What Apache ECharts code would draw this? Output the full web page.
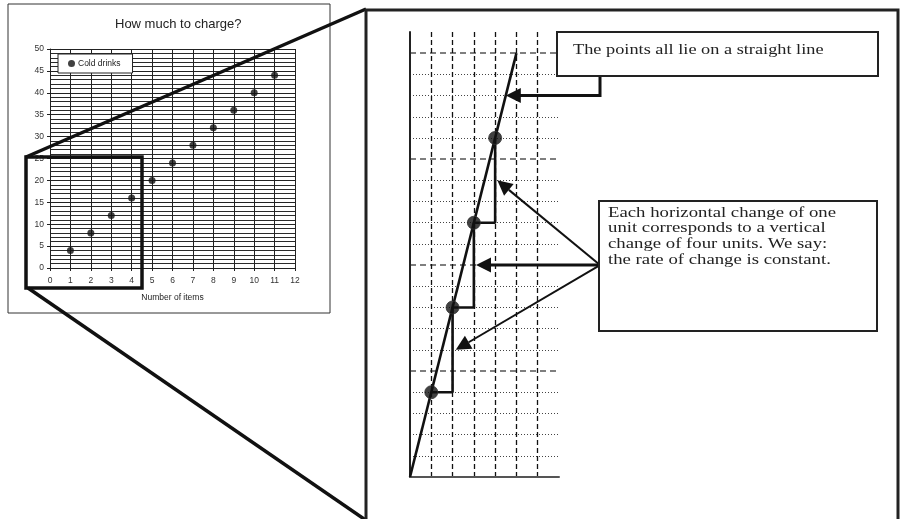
<!DOCTYPE html>
<html><head><meta charset="utf-8">
<script src="https://cdn.jsdelivr.net/npm/echarts@6/dist/echarts.min.js"></script>
<style>html,body{margin:0;padding:0;background:#fff}#c{width:901px;height:519px}</style>
</head><body><div id="c"></div>
<script>
// ---- data ----
const chartTitle = 'How much to charge?';
const xAxisName = 'Number of items';
const seriesName = 'Cold drinks';
const items = [1, 2, 3, 4, 5, 6, 7, 8, 9, 10, 11];
const charge = [4, 8, 12, 16, 20, 24, 28, 32, 36, 40, 44];
const zoomItems = [1, 2, 3, 4];
const zoomCharge = [4, 8, 12, 16];
const lineItems = [0, 5];
const lineCharge = [0, 20];
const note1 = 'The points all lie on a straight line';
const note2 = ['Each horizontal change of one', 'unit corresponds to a vertical', 'change of four units. We say:', 'the rate of change is constant.'];
// arrow tips in the zoomed chart's data space
const tipTop = [4.5, 18];
const tipSteps = [[4.1, 14], [3.1, 10], [2.15, 6]];

const chart = echarts.init(document.getElementById('c'), null, {renderer: 'canvas'});

const pts = items.map((x, i) => [x, charge[i]]);
const zpts = zoomItems.map((x, i) => [x, zoomCharge[i]]);
const stair = [zpts[0]];
for (let i = 1; i < zpts.length; i++) {
  stair.push([zpts[i][0], zpts[i - 1][1]]);
  stair.push(zpts[i]);
}
const fitLine = lineItems.map((x, i) => [x, lineCharge[i]]);

const sans = 'Liberation Sans, Arial, sans-serif';
const serif = 'Liberation Serif, Times New Roman, serif';

chart.setOption({
  animation: false,
  backgroundColor: '#fff',
  title: {
    text: chartTitle, left: 115, top: 18, padding: 0,
    textStyle: {fontFamily: sans, fontSize: 13, fontWeight: 'normal', color: '#222'}
  },
  legend: {
    data: [seriesName], left: 58, top: 54, orient: 'horizontal',
    backgroundColor: '#fff', borderColor: '#222', borderWidth: 1,
    padding: [5, 12, 5, 10], itemWidth: 7, itemHeight: 7, itemGap: 4,
    icon: 'circle',
    textStyle: {fontFamily: sans, fontSize: 8.5, color: '#222', padding: [0, 0, 0, -2]}
  },
  grid: [
    {left: 50, top: 49, width: 245, height: 219},
    {left: 410, top: 32, width: 149, height: 445}
  ],
  xAxis: [
    {
      gridIndex: 0, type: 'value', min: 0, max: 12, interval: 1,
      name: xAxisName, nameLocation: 'middle', nameGap: 25,
      nameTextStyle: {fontFamily: sans, fontSize: 8.5, color: '#222'},
      axisLine: {lineStyle: {color: '#222', width: 1}},
      axisTick: {show: true, length: 3, lineStyle: {color: '#222'}},
      axisLabel: {fontFamily: sans, fontSize: 8.5, color: '#333', margin: 8},
      splitLine: {show: true, lineStyle: {color: '#222', width: 1}}
    },
    {
      gridIndex: 1, type: 'value', min: 0, max: 7, interval: 1,
      axisLine: {lineStyle: {color: '#555', width: 2}},
      axisTick: {show: false}, axisLabel: {show: false},
      splitLine: {show: true, showMinLine: false, showMaxLine: false,
        lineStyle: {color: '#111', width: 1.3, type: [5, 3]}}
    }
  ],
  yAxis: [
    {
      gridIndex: 0, type: 'value', min: 0, max: 50, interval: 5,
      axisLine: {show: true, lineStyle: {color: '#222', width: 1}},
      axisTick: {show: true, length: 3, lineStyle: {color: '#222'}},
      axisLabel: {fontFamily: sans, fontSize: 8.5, color: '#333', margin: 6},
      splitLine: {show: true, lineStyle: {color: '#222', width: 1}},
      minorTick: {show: false, splitNumber: 5},
      minorSplitLine: {show: true, lineStyle: {color: '#2a2a2a', width: 1}}
    },
    {
      gridIndex: 1, type: 'value', min: 0, max: 21, interval: 1,
      axisLine: {show: true, lineStyle: {color: '#222', width: 2}},
      axisTick: {show: false}, axisLabel: {show: false},
      splitLine: {show: true, showMaxLine: false,
        lineStyle: {color: ['transparent', '#444', '#444', '#444', '#444'], width: 1, type: [1, 2]}}
    },
    {
      gridIndex: 1, type: 'value', min: 0, max: 21, interval: 5,
      axisLine: {show: false}, axisTick: {show: false}, axisLabel: {show: false},
      splitLine: {show: true, showMinLine: false, showMaxLine: false,
        lineStyle: {color: '#555', width: 1.5, type: [6, 4]}}
    }
  ],
  series: [
    {
      name: seriesName, type: 'scatter', xAxisIndex: 0, yAxisIndex: 0,
      data: pts, symbolSize: 7, itemStyle: {color: '#111'}, z: 5
    },
    {
      type: 'line', xAxisIndex: 1, yAxisIndex: 1, data: fitLine,
      symbol: 'none', lineStyle: {color: '#111', width: 2.6}, z: 5
    },
    {
      type: 'line', xAxisIndex: 1, yAxisIndex: 1, data: stair,
      symbol: 'none', lineStyle: {color: '#111', width: 2.6}, z: 5
    },
    {
      type: 'scatter', xAxisIndex: 1, yAxisIndex: 1, data: zpts,
      symbolSize: 13, itemStyle: {color: '#111', borderColor: '#333', borderWidth: 1}, z: 6
    }
  ]
});

// ---- annotations ----
const P = (d) => chart.convertToPixel({gridIndex: 1}, d);
const g = [];
function seg(pts, w) {
  return {type: 'polyline', z: 20, shape: {points: pts}, style: {stroke: '#111', lineWidth: w, fill: null}};
}
function arrow(from, tip, w) {
  const dx = tip[0] - from[0], dy = tip[1] - from[1];
  const L = Math.hypot(dx, dy), ux = dx / L, uy = dy / L;
  const len = 15, hw = 7.5;
  const bx = tip[0] - ux * len, by = tip[1] - uy * len;
  g.push(seg([from, [bx, by]], w));
  g.push({type: 'polygon', z: 21, shape: {points: [tip, [bx - uy * hw, by + ux * hw], [bx + uy * hw, by - ux * hw]]},
    style: {fill: '#111'}});
}
// left chart frame
g.push({type: 'rect', z: 1, shape: {x: 8, y: 4, width: 322, height: 309}, style: {stroke: '#333', lineWidth: 1, fill: null}});
// highlight rect and connecting lines
g.push({type: 'rect', z: 20, shape: {x: 26, y: 157, width: 116, height: 131}, style: {stroke: '#111', lineWidth: 3.5, fill: null}});
g.push(seg([[26, 157], [366, 9]], 3.5));
g.push(seg([[28, 288], [367, 521]], 3.5));
// big frame
g.push({type: 'rect', z: 20, shape: {x: 366, y: 10, width: 532, height: 520}, style: {stroke: '#222', lineWidth: 3, fill: null}});
// note boxes
g.push({type: 'rect', z: 22, shape: {x: 557, y: 32, width: 321, height: 44}, style: {stroke: '#222', lineWidth: 2, fill: '#fff'}});
g.push({type: 'text', z: 23, x: 573, y: 50, scaleX: 1.22, originX: 0, originY: 0,
  style: {x: 0, y: 0, text: note1, fontFamily: serif, fontSize: 15, fill: '#222', verticalAlign: 'middle'}});
g.push({type: 'rect', z: 22, shape: {x: 599, y: 201, width: 278, height: 130}, style: {stroke: '#222', lineWidth: 2, fill: '#fff'}});
g.push({type: 'text', z: 23, x: 608, y: 205, scaleX: 1.25, originX: 0, originY: 0,
  style: {x: 0, y: 0, text: note2.join('\n'), lineHeight: 15.7, fontFamily: serif, fontSize: 15, fill: '#222'}});
// arrow from top note
const tA = P(tipTop);
g.push(seg([[600, 77], [600, tA[1]], [tA[0] + 10, tA[1]]], 3));
arrow([tA[0] + 16, tA[1]], tA, 3);
// arrows from second note
const S = [600, P([0, 10])[1]];
tipSteps.forEach((t, i) => arrow(S, P(t), i === 1 ? 3 : 2));
chart.setOption({graphic: g});
</script>
</body></html>
